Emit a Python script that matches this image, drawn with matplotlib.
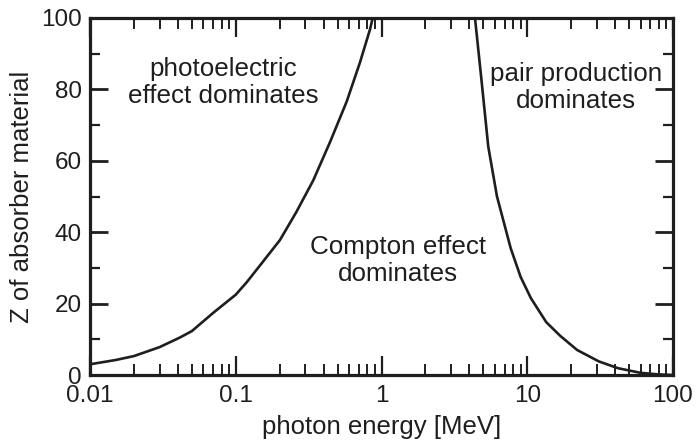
import numpy as np
import matplotlib.pyplot as plt
from matplotlib.ticker import LogLocator, FixedLocator, NullFormatter

plt.rcParams['font.family'] = ['Liberation Sans', 'DejaVu Sans']

# boundary where photoelectric and Compton cross sections are equal
photo_energy = [0.01, 0.015, 0.02, 0.03, 0.0414, 0.05, 0.07, 0.1, 0.119, 0.15,
                0.201, 0.26, 0.34, 0.443, 0.577, 0.711, 0.834, 0.87]
photo_z = [3.0, 4.2, 5.3, 7.8, 10.5, 12.3, 17.4, 22.5, 26.0, 31.2,
           37.8, 45.6, 54.5, 65.2, 76.6, 87.5, 96.8, 100.0]

# boundary where Compton and pair production cross sections are equal
pair_energy = [4.38, 4.87, 5.4, 6.2, 7.7, 9.0, 10.6, 13.5, 16.8, 22.0,
               31.0, 42.0, 60.0, 80.0, 100.0]
pair_z = [100.0, 82.0, 64.0, 50.0, 35.5, 27.5, 21.5, 14.8, 11.0, 7.0,
          3.8, 1.9, 0.6, 0.15, 0.0]

x_ticks = [0.01, 0.1, 1, 10, 100]
x_tick_labels = ['0.01', '0.1', '1', '10', '100']
y_ticks = [0, 20, 40, 60, 80, 100]

ink = '#1e1e1e'

fig = plt.figure(figsize=(6.96, 4.47), dpi=100)
ax = fig.add_axes([90 / 696, 1 - 375 / 447, 583 / 696, 357 / 447])

ax.plot(photo_energy, photo_z, color=ink, lw=1.9, solid_capstyle='round')
ax.plot(pair_energy, pair_z, color=ink, lw=1.9, solid_capstyle='round')

ax.set_xscale('log')
ax.set_xlim(0.01, 100)
ax.set_ylim(0, 100)

ax.set_xticks(x_ticks)
ax.set_xticklabels(x_tick_labels)
ax.xaxis.set_minor_locator(LogLocator(base=10, subs=np.arange(2, 10)))
ax.xaxis.set_minor_formatter(NullFormatter())
ax.set_yticks(y_ticks)
ax.yaxis.set_minor_locator(FixedLocator([10, 30, 50, 70, 90]))

for side in ax.spines.values():
    side.set_linewidth(2.3)
    side.set_color(ink)

ax.tick_params(axis='x', which='major', direction='in', length=14, width=1.6,
               top=True, bottom=True, labelsize=17.5, pad=7, colors=ink)
ax.tick_params(axis='x', which='minor', direction='in', length=8, width=1.4,
               top=True, bottom=True, colors=ink)
ax.tick_params(axis='y', which='major', direction='in', length=13, width=2.0,
               left=True, right=True, labelsize=17.5, pad=6, colors=ink)
ax.tick_params(axis='y', which='minor', direction='in', length=7, width=1.6,
               left=True, right=True, colors=ink)

ax.set_xlabel('photon energy [MeV]', fontsize=18.5, color=ink, labelpad=6)
ax.set_ylabel('Z of absorber material', fontsize=18.5, color=ink, labelpad=5)

ax.text(0.082, 82, 'photoelectric\neffect dominates', fontsize=18.7, color=ink,
        ha='center', va='center', linespacing=1.15)
ax.text(21.6, 80.6, 'pair production\ndominates', fontsize=18.7, color=ink,
        ha='center', va='center', linespacing=1.15)
ax.text(1.3, 32, 'Compton effect\ndominates', fontsize=18.7, color=ink,
        ha='center', va='center', linespacing=1.15)

fig.savefig('out.png', dpi=100)
